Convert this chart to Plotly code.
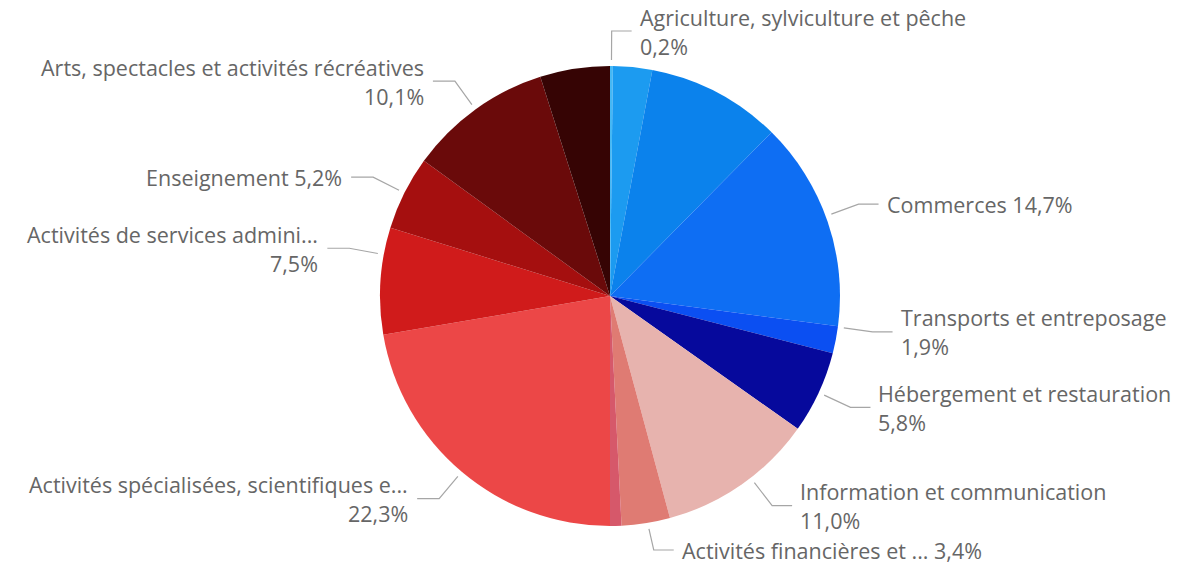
import math
import plotly.graph_objects as go

# ---- data ----
categories = [
    "Agriculture, sylviculture et pêche",
    "Industrie",
    "Construction",
    "Commerces",
    "Transports et entreposage",
    "Hébergement et restauration",
    "Information et communication",
    "Activités financières et ...",
    "Activités immobilières",
    "Activités spécialisées, scientifiques e...",
    "Activités de services admini...",
    "Enseignement",
    "Arts, spectacles et activités récréatives",
    "Autres activités de services",
]
values = [0.2, 2.75, 9.45, 14.7, 1.9, 5.8, 11.0, 3.4, 0.8, 22.3, 7.5, 5.2, 10.1, 4.9]
show_label = [True, False, False, True, True, True, True, True, False, True, True, True, True, False]
one_line = [False, False, False, True, False, False, False, True, False, False, False, True, False, False]
colors = [
    "#45B8F5", "#1C9BF0", "#0B82EC", "#0E6EF3", "#0B4FF2", "#06099C",
    "#E7B3AE", "#DF7B73", "#D6586A", "#EC4747", "#D01B1B", "#A50F0F",
    "#6A0A0A", "#360404",
]
# label placement tweaks (degrees), mimicking the collision avoidance of the original
label_angle_shift = [0, 0, 0, -1.4, -3.2, 0, -2.8, -0.5, 0, 0, 6.6, 0, 0, 0]

W, H = 1178, 566
dom_x = [0.32258, 0.71307]
dom_y = [0.07067, 0.88339]

fig = go.Figure(go.Pie(
    labels=categories,
    values=values,
    sort=False,
    direction="clockwise",
    rotation=0,
    textinfo="none",
    marker=dict(colors=colors, line=dict(width=0)),
    domain=dict(x=dom_x, y=dom_y),
    showlegend=False,
    hovertemplate="%{label}<br>%{percent:.1%}<extra></extra>",
))

# geometry of the pie as plotly lays it out (margins 0)
cx = W * (dom_x[0] + dom_x[1]) / 2
cy = H * (1 - (dom_y[0] + dom_y[1]) / 2)
r = min(W * (dom_x[1] - dom_x[0]), H * (dom_y[1] - dom_y[0])) / 2

total = sum(values)
font = dict(family="Segoe UI, Open Sans, sans-serif", size=21.5, color="#666666")


def px(x):
    return x / W


def py(y):
    return 1 - y / H


annotations = []
shapes = []
cum = 0.0
for name, v, show, single, shift in zip(categories, values, show_label, one_line, label_angle_shift):
    mid = (cum + v / 2) / total * 2 * math.pi + math.radians(shift)
    cum += v
    if not show:
        continue
    s, c = math.sin(mid), -math.cos(mid)
    x0, y0 = cx + (r + 6) * s, cy + (r + 6) * c
    x1, y1 = cx + (r + 35) * s, cy + (r + 35) * c
    y1 = min(y1, H - 16)
    right = s >= 0
    x2 = x1 + (20 if right else -22)
    shapes.append(dict(
        type="path", xref="paper", yref="paper",
        path=f"M {px(x0)},{py(y0)} L {px(x1)},{py(y1)} L {px(x2)},{py(y1)}",
        line=dict(color="#A6A6A6", width=1.2),
    ))
    tx = x2 + (6 if right else -7)
    anchor = "left" if right else "right"
    pct = f"{v / total * 100:.1f}".replace(".", ",") + "%"
    if single:
        annotations.append(dict(x=px(tx), y=py(y1), xref="paper", yref="paper",
                                text=f"{name} {pct}", showarrow=False,
                                xanchor=anchor, yanchor="middle", font=font))
    else:
        annotations.append(dict(x=px(tx), y=py(y1 - 14), xref="paper", yref="paper",
                                text=name, showarrow=False,
                                xanchor=anchor, yanchor="middle", font=font))
        annotations.append(dict(x=px(tx), y=py(y1 + 15), xref="paper", yref="paper",
                                text=pct, showarrow=False,
                                xanchor=anchor, yanchor="middle", font=font))

fig.update_layout(
    width=W, height=H,
    margin=dict(l=0, r=0, t=0, b=0),
    paper_bgcolor="white", plot_bgcolor="white",
    annotations=annotations, shapes=shapes,
)

fig.write_html(
    "out.html",
    config={"displayModeBar": False},
    post_script="document.body.style.margin='0';document.body.style.overflow='hidden';",
)
